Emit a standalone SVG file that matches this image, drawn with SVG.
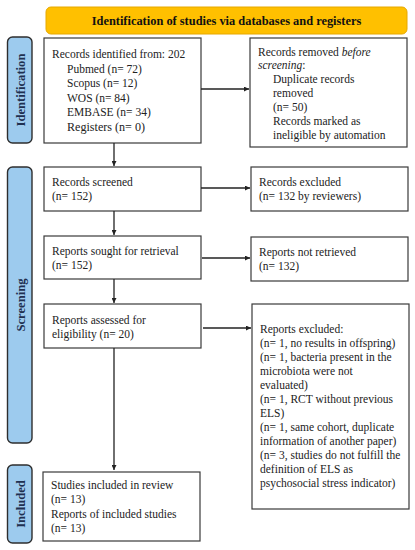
<svg xmlns="http://www.w3.org/2000/svg" width="415" height="550" viewBox="0 0 415 550">
<defs>
<style>
.box{fill:#fff;stroke:#3a3a3a;stroke-width:1.2}
.side{fill:#9dcbee;stroke:#2e2e2e;stroke-width:1.4}
.t{font-family:"Liberation Serif","DejaVu Serif",serif;font-size:11.5px;fill:#222}
.st{font-family:"Liberation Serif","DejaVu Serif",serif;font-size:12.6px;font-weight:bold;fill:#1f3050}
.ln{stroke:#222;stroke-width:1.3;fill:none;marker-end:url(#ah)}
</style>
<marker id="ah" viewBox="0 0 10 10" refX="10" refY="5" markerWidth="5" markerHeight="5" orient="auto" markerUnits="userSpaceOnUse">
<path d="M0,0 L10,5 L0,10 z" fill="#222"/>
</marker>
</defs>
<rect width="415" height="550" fill="#fff"/>
<g id="banner">
<rect x="46" y="7" width="361" height="27" rx="5" fill="#ffc000" stroke="#e6a800" stroke-width="1"/>
<text class="st" x="226.5" y="25" text-anchor="middle" style="fill:#111;font-size:12.4px">Identification of studies via databases and registers</text>
</g>
<g id="label-identification">
<rect class="side" x="7.5" y="37" width="24.5" height="106" rx="5"/>
<text class="st" transform="translate(24.5,90) rotate(-90)" text-anchor="middle">Identification</text>
</g>
<g id="label-screening">
<rect class="side" x="7.5" y="167" width="24.5" height="276" rx="5"/>
<text class="st" transform="translate(24.5,305) rotate(-90)" text-anchor="middle">Screening</text>
</g>
<g id="label-included">
<rect class="side" x="7.5" y="465" width="24.5" height="78" rx="5"/>
<text class="st" transform="translate(24.5,504) rotate(-90)" text-anchor="middle">Included</text>
</g>
<g id="records-identified">
<rect class="box" x="44" y="38" width="157" height="105"/>
<text class="t" x="52" y="58">Records identified from: 202</text>
<text class="t" x="67" y="72.5">Pubmed (n= 72)</text>
<text class="t" x="67" y="87">Scopus (n= 12)</text>
<text class="t" x="67" y="101.5">WOS (n= 84)</text>
<text class="t" x="67" y="116">EMBASE (n= 34)</text>
<text class="t" x="67" y="131" style="font-size:12.1px">Registers (n= 0)</text>
</g>
<g id="records-removed">
<rect class="box" x="250" y="38" width="157" height="109"/>
<text class="t" x="258" y="56">Records removed <tspan font-style="italic">before</tspan></text>
<text class="t" x="258" y="69"><tspan font-style="italic">screening</tspan>:</text>
<text class="t" x="273" y="83">Duplicate records</text>
<text class="t" x="273" y="97">removed</text>
<text class="t" x="273" y="111">(n= 50)</text>
<text class="t" x="273" y="125">Records marked as</text>
<text class="t" x="273" y="139">ineligible by automation</text>
</g>
<g id="records-screened">
<rect class="box" x="44" y="167" width="157" height="44"/>
<text class="t" x="52" y="186">Records screened</text>
<text class="t" x="52" y="200">(n= 152)</text>
</g>
<g id="records-excluded">
<rect class="box" x="251" y="167" width="157" height="44"/>
<text class="t" x="259" y="186">Records excluded</text>
<text class="t" x="259" y="200">(n= 132 by reviewers)</text>
</g>
<g id="reports-sought">
<rect class="box" x="44" y="236" width="157" height="43"/>
<text class="t" x="52" y="255">Reports sought for retrieval</text>
<text class="t" x="52" y="269">(n= 152)</text>
</g>
<g id="reports-not-retrieved">
<rect class="box" x="251" y="237" width="157" height="44"/>
<text class="t" x="259" y="256">Reports not retrieved</text>
<text class="t" x="259" y="270">(n= 132)</text>
</g>
<g id="reports-assessed">
<rect class="box" x="44" y="304" width="157" height="44"/>
<text class="t" x="52" y="324">Reports assessed for</text>
<text class="t" x="52" y="338">eligibility (n= 20)</text>
</g>
<g id="reports-excluded">
<rect class="box" x="252" y="304" width="157" height="205"/>
<text class="t" x="260" y="333">Reports excluded:</text>
<text class="t" x="260" y="347">(n= 1, no results in offspring)</text>
<text class="t" x="260" y="361">(n= 1, bacteria present in the</text>
<text class="t" x="260" y="375">microbiota were not</text>
<text class="t" x="260" y="389">evaluated)</text>
<text class="t" x="260" y="403">(n= 1, RCT without previous</text>
<text class="t" x="260" y="417">ELS)</text>
<text class="t" x="260" y="431">(n= 1, same cohort, duplicate</text>
<text class="t" x="260" y="445">information of another paper)</text>
<text class="t" x="260" y="459">(n= 3, studies do not fulfill the</text>
<text class="t" x="260" y="473">definition of ELS as</text>
<text class="t" x="260" y="487">psychosocial stress indicator)</text>
</g>
<g id="studies-included">
<rect class="box" x="43" y="472" width="157" height="69"/>
<text class="t" x="51" y="489">Studies included in review</text>
<text class="t" x="51" y="503">(n= 13)</text>
<text class="t" x="51" y="518">Reports of included studies</text>
<text class="t" x="51" y="532">(n= 13)</text>
</g>
<g id="connectors">
<line class="ln" x1="201" y1="89" x2="249" y2="89"/>
<line class="ln" x1="114" y1="143" x2="114" y2="166"/>
<line class="ln" x1="201" y1="188" x2="250" y2="188"/>
<line class="ln" x1="114" y1="211" x2="114" y2="235"/>
<line class="ln" x1="202" y1="258" x2="250" y2="258"/>
<line class="ln" x1="114" y1="279" x2="114" y2="303"/>
<line class="ln" x1="203" y1="328" x2="251" y2="328"/>
<line class="ln" x1="114" y1="348" x2="114" y2="470"/>
</g>
</svg>
